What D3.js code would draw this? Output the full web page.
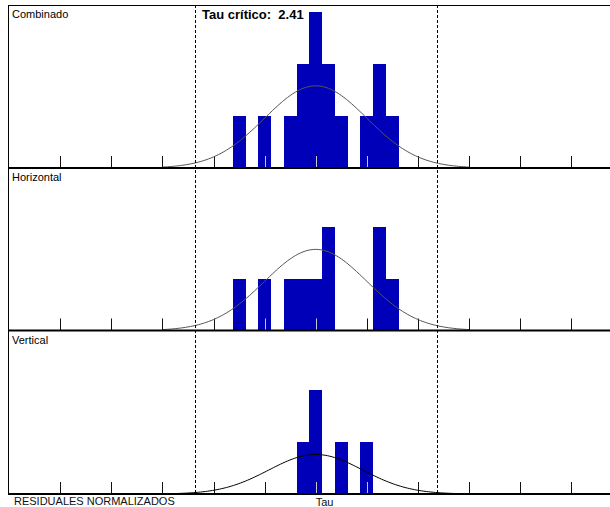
<!DOCTYPE html>
<meta charset="utf-8">
<style>
body { margin: 0; background: #fff; }
svg text { font-family: "Liberation Sans", Arial, sans-serif; }
</style>
<svg width="610" height="507"></svg>
<script src="https://cdn.jsdelivr.net/npm/d3@7"></script>
<script>

// centros de clase (Tau) y frecuencias por panel
var binCenters = [-1.5, -1.25, -1, -0.75, -0.5, -0.25, 0, 0.25, 0.5, 0.75, 1, 1.25, 1.5];
var combinado  = [1, 0, 1, 0, 1, 2, 3, 2, 1, 0, 1, 2, 1];
var horizontal = [1, 0, 1, 0, 1, 1, 1, 2, 0, 0, 0, 2, 1];
var vertical   = [0, 0, 0, 0, 0, 1, 2, 0, 1, 0, 1, 0, 0];

var panelNames = ["Combinado", "Horizontal", "Vertical"];
var panelCounts = [combinado, horizontal, vertical];

// curva normal de referencia de cada panel
var curveMean = [0, 0, 0];
var curveSd   = [1, 1, 0.92];
var curvePeak = [1.58, 1.56, 0.76];
var curveColor = ["#555", "#555", "#000"];

var tickValues = [-5, -4, -3, -2, -1, 0, 1, 2, 3, 4, 5];
var tauCritico = 2.41;
var critLines = [-2.37, 2.37];   // posicion
var binWidth = 0.25;

var svg = d3.select("svg");

var x = d3.scaleLinear().domain([-5, 5]).range([60.3, 571.2]);

var top0 = 5, left0 = 8;
var baselines = [168, 330.5, 494];
var panelTops = [top0, 168, 330.5];

panelNames.forEach(function(name, p) {
  var base = baselines[p];
  var y = d3.scaleLinear().domain([0, 3]).range([base, base - 156]);
  var g = svg.append("g");
  var counts = panelCounts[p];

  var bins = binCenters.map(function(c, i) { return {c: c, n: counts[i]}; })
    .filter(function(d) { return d.n > 0; });

  g.selectAll("rect")
    .data(bins)
    .enter().append("rect")
    .attr("x", function(d) { return Math.round(x(d.c - binWidth / 2)); })
    .attr("width", function(d) { return Math.round(x(d.c + binWidth / 2)) - Math.round(x(d.c - binWidth / 2)); })
    .attr("y", function(d) { return Math.round(y(d.n)); })
    .attr("height", function(d) { return Math.round(base) - Math.round(y(d.n)); })
    .attr("fill", "#0000b8")
    .attr("shape-rendering", "crispEdges");

  // marcas del eje
  g.selectAll("line.tick")
    .data(tickValues)
    .enter().append("line")
    .attr("class", "tick")
    .attr("x1", function(d) { return Math.round(x(d)) + 0.5; })
    .attr("x2", function(d) { return Math.round(x(d)) + 0.5; })
    .attr("y1", base)
    .attr("y2", base - 12)
    .attr("stroke", function(d) {
      var inBar = bins.some(function(b) { return Math.abs(b.c - d) < binWidth / 2; });
      return inBar ? "#c8c8c8" : "#111";
    })
    .attr("stroke-width", 1);

  // curva normal
  var m = curveMean[p], s = curveSd[p];
  var pts = d3.range(m - 3 * s, m + 3 * s + 1e-9, s * 0.05);
  var line = d3.line()
    .x(function(t) { return x(t); })
    .y(function(t) { return y(curvePeak[p] * Math.exp(-(t - m) * (t - m) / (2 * s * s))); });
  g.append("path")
    .datum(pts)
    .attr("d", line)
    .attr("fill", "none")
    .attr("stroke", curveColor[p])
    .attr("stroke-width", 1);

  // linea base
  g.append("line")
    .attr("x1", left0).attr("x2", 610)
    .attr("y1", base).attr("y2", base)
    .attr("stroke", "#000")
    .attr("stroke-width", 2);

  g.append("text")
    .attr("x", 12)
    .attr("y", panelTops[p] + 13)
    .attr("font-size", "11px")
    .attr("fill", "#000")
    .text(name);
});

// marco
svg.append("line")
  .attr("x1", left0).attr("x2", 610)
  .attr("y1", top0 + 0.5).attr("y2", top0 + 0.5)
  .attr("stroke", "#000");
svg.append("line")
  .attr("x1", left0 + 0.5).attr("x2", left0 + 0.5)
  .attr("y1", top0).attr("y2", baselines[2])
  .attr("stroke", "#000");

// limites criticos
svg.selectAll("line.crit")
  .data(critLines)
  .enter().append("line")
  .attr("class", "crit")
  .attr("x1", function(d) { return Math.round(x(d)) + 0.5; })
  .attr("x2", function(d) { return Math.round(x(d)) + 0.5; })
  .attr("y1", top0)
  .attr("y2", baselines[2])
  .attr("stroke", "#000")
  .attr("stroke-dasharray", "3,2");

svg.append("text")
  .attr("x", 202)
  .attr("y", 19)
  .attr("font-size", "13px")
  .attr("font-weight", "bold")
  .attr("fill", "#000")
  .attr("xml:space", "preserve")
  .style("white-space", "pre")
  .text("Tau crítico:  " + tauCritico.toFixed(2));

svg.append("text")
  .attr("x", 14)
  .attr("y", 505)
  .attr("font-size", "11px")
  .attr("fill", "#111")
  .text("RESIDUALES NORMALIZADOS");

svg.append("text")
  .attr("x", x(0))
  .attr("y", 506)
  .attr("font-size", "11px")
  .attr("fill", "#111")
  .text("Tau");

</script>
